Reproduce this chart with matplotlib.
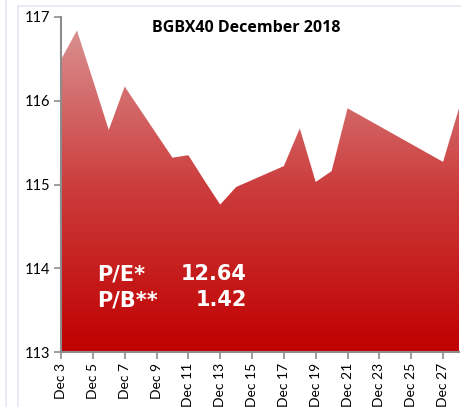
import numpy as np
import matplotlib.pyplot as plt
from matplotlib.colors import LinearSegmentedColormap
from matplotlib.lines import Line2D

# BGBX40 daily closes, December 2018 (day of month)
days = [3, 4, 5, 6, 7, 10, 11, 12, 13, 14, 17, 18, 19, 20, 21, 27, 28]
values = [116.49, 116.84, 116.25, 115.65, 116.17, 115.32, 115.35, 115.05,
          114.76, 114.97, 115.22, 115.67, 115.03, 115.16, 115.91, 115.27, 115.91]
tick_days = list(range(3, 28, 2))
tick_labels = ['Dec %d' % d for d in tick_days]
yticks = [113, 114, 115, 116, 117]

W, H = 461, 407
fig = plt.figure(figsize=(W / 100, H / 100), dpi=100)
ax = fig.add_axes([61 / W, 1 - 352 / H, (459 - 61) / W, (352 - 17) / H])
ax.set_xlim(3, 28)
ax.set_ylim(113, 117)

# area with vertical gradient clipped to the polygon
poly = ax.fill_between(days, values, 113, color='none', lw=0)
cmap = LinearSegmentedColormap.from_list('red', ['#c00000', '#cc3c3c', '#da9292'])
grad = np.linspace(0, 1, 256).reshape(-1, 1)
img = ax.imshow(grad, cmap=cmap, aspect='auto', origin='lower',
                extent=[3, 28, 113, 116.9], zorder=1)
img.set_clip_path(poly.get_paths()[0], transform=ax.transData)

for s in ['top', 'right']:
    ax.spines[s].set_visible(False)
for s in ['left', 'bottom']:
    ax.spines[s].set_color('#8c8c8c')
    ax.spines[s].set_linewidth(1.5)
    ax.spines[s].set_zorder(3)

ax.set_yticks(yticks)
ax.set_yticklabels([str(v) for v in yticks], fontsize=10.5, family='Lato')
ax.set_xticks(tick_days)
ax.set_xticklabels(tick_labels, rotation=90, fontsize=10, family='Lato')
ax.tick_params(axis='both', color='#8c8c8c', length=5, width=1.2, pad=3)

fig.text(246 / W, 1 - 32 / H, 'BGBX40 December 2018', ha='center', va='baseline',
         fontsize=11.5, fontweight='bold', family='Open Sans')

txt = dict(color='white', fontsize=15, fontweight='bold', family='DejaVu Sans',
           va='baseline')
fig.text(97 / W, 1 - 280 / H, 'P/E*', ha='left', **txt)
fig.text(247 / W, 1 - 280 / H, '12.64', ha='right', **txt)
fig.text(97 / W, 1 - 306 / H, 'P/B**', ha='left', **txt)
fig.text(247 / W, 1 - 306 / H, '1.42', ha='right', **txt)

# frame lines of the surrounding sheet
bc = '#e4eaf2'
fig.add_artist(Line2D([6 / W, 6 / W], [0, 1], color=bc, lw=1.2))
fig.add_artist(Line2D([18 / W, 18 / W], [0, 1 - 6 / H], color=bc, lw=1.2))
fig.add_artist(Line2D([18 / W, 1], [1 - 6 / H, 1 - 6 / H], color=bc, lw=1.2))

fig.savefig('out.png', dpi=100)
